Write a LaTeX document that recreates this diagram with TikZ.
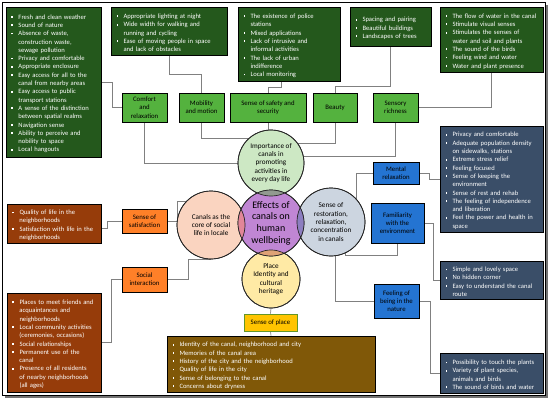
\documentclass[tikz,border=0pt]{standalone}
\usepackage{fontspec}
\setmainfont{Carlito}
\usetikzlibrary{backgrounds}

\definecolor{leafdark}{RGB}{36,88,28}
\definecolor{leaf}{RGB}{84,178,62}
\definecolor{slate}{RGB}{58,78,104}
\definecolor{azure}{RGB}{36,116,210}
\definecolor{rust}{RGB}{150,60,10}
\definecolor{tangerine}{RGB}{255,128,40}
\definecolor{ochre}{RGB}{128,88,8}
\definecolor{amber}{RGB}{255,196,0}
\definecolor{moss}{RGB}{100,150,40}
\definecolor{mint}{RGB}{205,232,196}
\definecolor{orchid}{RGB}{192,134,212}
\definecolor{peach}{RGB}{250,212,192}
\definecolor{mist}{RGB}{204,213,224}
\definecolor{cream}{RGB}{255,234,165}
\definecolor{lensmint}{RGB}{146,154,144}
\definecolor{lenspeach}{RGB}{226,134,152}
\definecolor{lensmist}{RGB}{140,126,192}
\definecolor{lenscream}{RGB}{222,162,118}

\newcommand{\bulletfont}{\fontsize{6.6}{8.3}\selectfont}
\newcommand{\labelfont}{\fontsize{6.8}{8.3}\selectfont}
\newcommand{\ringfont}{\fontsize{7.2}{8.4}\selectfont}
% one bullet item; continuation lines hang under the text
\newcommand{\itm}[1]{\par\hangindent=9.5pt\hangafter=1\noindent
  \makebox[9.5pt][l]{\hspace{2.5pt}\raisebox{1.3pt}{\rule{1.8pt}{1.8pt}}}#1\par}

\begin{document}
\begin{tikzpicture}[
  x=1pt, y=-1pt,
  facts/.style={
    rectangle, draw=black, line width=0.6pt, text=white,
    font=\bulletfont, align=left, inner xsep=3pt, inner ysep=2pt},
  facet/.style={
    rectangle, draw=black, line width=0.6pt,
    font=\labelfont, align=center, inner sep=1pt},
  ring/.style={
    circle, draw=black!85, line width=0.7pt, inner sep=0pt,
    font=\ringfont, align=center},
  link/.style={draw=black!50, line width=0.7pt},
]
\useasboundingbox (0,0) rectangle (550,400);

% ── Frame ───────────────────────────────────────────────────────────────
\draw[black!55, line width=2pt] (5,397) -- (547,397) -- (547,5);
\draw[line width=0.6pt] (2.5,2.5) rectangle (545,395.5);

% ── Circles ─────────────────────────────────────────────────────────────
\node[ring, fill=mint,   minimum size=66pt] (importance) at (271,163)
    {Importance of\\canals in\\promoting\\activities in\\every day life};
\node[ring, fill=peach,  minimum size=68pt] (social)     at (211,225)
    {Canals as the\\core of social\\life in locale};
\node[ring, fill=mist,   minimum size=68pt] (restore)    at (331,222)
    {Sense of\\restoration,\\relaxation,\\concentration\\in canals};
\node[ring, fill=cream,  minimum size=58pt] (identity)   at (271,279)
    {Place\\Identity and\\cultural\\heritage};
\node[ring, fill=orchid, minimum size=66pt,
      font=\fontsize{10}{11.7}\selectfont] (effects)     at (271,223)
    {Effects of\\canals on\\human\\wellbeing};

% overlaps with the centre circle
\begin{scope}
  \clip (effects.center) circle (33pt);
  \fill[lensmint]  (importance.center) circle (33pt);
  \fill[lenspeach] (social.center)     circle (34pt);
  \fill[lensmist]  (restore.center)    circle (34pt);
  \fill[lenscream] (identity.center)   circle (29pt);
\end{scope}
\draw[black!85, line width=0.7pt] (importance.center) circle (33pt)
  (social.center) circle (34pt) (restore.center) circle (34pt)
  (identity.center) circle (29pt) (effects.center) circle (33pt);

% ── Top row: lists ──────────────────────────────────────────────────────
\node[facts, fill=leafdark, text width=89pt, minimum height=150pt]
    (lComfort) at (53.5,82) {%
  \itm{Fresh and clean weather}
  \itm{Sound of nature}
  \itm{Absence of waste,\newline construction waste,\newline sewage pollution}
  \itm{Privacy and comfortable}
  \itm{Appropriate enclosure}
  \itm{Easy access for all to the\newline canal from nearby areas}
  \itm{Easy access to public\newline transport stations}
  \itm{A sense of the distinction\newline between spatial realms}
  \itm{Navigation sense}
  \itm{Ability to perceive and\newline nobility to space}
  \itm{Local hangouts}};
\node[facts, fill=leafdark, text width=110pt, minimum height=48pt]
    (lMobility) at (169,31) {%
  \itm{Appropriate lighting at night}
  \itm{Wide width for walking and\newline running and cycling}
  \itm{Ease of moving people in space\newline and lack of obstacles}};
\node[facts, fill=leafdark, text width=96pt, minimum height=74pt]
    (lSafety) at (289,44) {%
  \itm{The existence of police\newline stations}
  \itm{Mixed applications}
  \itm{Lack of intrusive and\newline informal activities}
  \itm{The lack of urban\newline indifference}
  \itm{Local monitoring}};
\node[facts, fill=leafdark, text width=75pt, minimum height=39pt]
    (lBeauty) at (390.5,26.5) {%
  \itm{Spacing and pairing}
  \itm{Beautiful buildings}
  \itm{Landscapes of trees}};
\node[facts, fill=leafdark, text width=97pt, minimum height=65pt]
    (lSensory) at (491.5,39.5) {%
  \itm{The flow of water in the canal}
  \itm{Stimulate visual senses}
  \itm{Stimulates the senses of\newline water and soil and plants}
  \itm{The sound of the birds}
  \itm{Feeling wind and water}
  \itm{Water and plant presence}};

% ── Top row: factors ────────────────────────────────────────────────────
\node[facet, fill=leaf, minimum width=45pt, minimum height=29pt]
    (comfort)  at (144.5,107.5) {Comfort\\and\\relaxation};
\node[facet, fill=leaf, minimum width=45pt, minimum height=29pt]
    (mobility) at (201.5,107.5) {Mobility\\and motion};
\node[facet, fill=leaf, minimum width=76pt, minimum height=29pt]
    (safety)   at (268,107.5)   {Sense of safety and\\security};
\node[facet, fill=leaf, minimum width=44pt, minimum height=29pt]
    (beauty)   at (335,107.5)   {Beauty};
\node[facet, fill=leaf, minimum width=45pt, minimum height=29pt]
    (sensory)  at (395.5,107.5) {Sensory\\richness};

% ── Right side ──────────────────────────────────────────────────────────
\node[facet, fill=azure, minimum width=46pt, minimum height=22pt]
    (mental)   at (396,173)   {Mental\\relaxation};
\node[facet, fill=azure, minimum width=53pt, minimum height=40pt]
    (familiar) at (397.5,223) {Familiarity\\with the\\environment};
\node[facet, fill=azure, minimum width=45pt, minimum height=34pt]
    (nature)   at (396.5,301) {Feeling of\\being in the\\nature};

\node[facts, fill=slate, text width=97pt, minimum height=106pt]
    (lMental) at (491.5,179) {%
  \itm{Privacy and comfortable}
  \itm{Adequate population density\newline on sidewalks, stations}
  \itm{Extreme stress relief}
  \itm{Feeling focused}
  \itm{Sense of keeping the\newline environment}
  \itm{Sense of rest and rehab}
  \itm{The feeling of independence\newline and liberation}
  \itm{Feel the power and health in\newline space}};
\node[facts, fill=slate, text width=97pt, minimum height=38pt]
    (lFamiliar) at (491.5,280) {%
  \itm{Simple and lovely space}
  \itm{No hidden corner}
  \itm{Easy to understand the canal\newline route}};
\node[facts, fill=slate, text width=97pt, minimum height=40pt]
    (lNature) at (491.5,373) {%
  \itm{Possibility to touch the plants}
  \itm{Variety of plant species,\newline animals and birds}
  \itm{The sound of birds and water}};

% ── Left side ───────────────────────────────────────────────────────────
\node[facet, fill=tangerine, minimum width=45pt, minimum height=24pt]
    (satisfy)  at (144.5,221)   {Sense of\\satisfaction};
\node[facet, fill=tangerine, minimum width=45pt, minimum height=25pt]
    (interact) at (144.5,279.5) {Social\\interaction};

\node[facts, fill=rust, text width=88pt, minimum height=39pt]
    (lSatisfy) at (54,223.5) {%
  \itm{Quality of life in the\newline neighborhoods}
  \itm{Satisfaction with life in the\newline neighborhoods}};
\node[facts, fill=rust, text width=88pt, minimum height=99pt]
    (lInteract) at (54,342.5) {%
  \itm{Places to meet friends and\newline acquaintances and\newline neighborhoods}
  \itm{Local community activities\newline (ceremonies, occasions)}
  \itm{Social relationships}
  \itm{Permanent use of the\newline canal}
  \itm{Presence of all residents\newline of nearby neighborhoods\newline (all ages)}};

% ── Bottom ──────────────────────────────────────────────────────────────
\node[facet, fill=amber, draw=moss, minimum width=53pt, minimum height=17pt]
    (placeSense) at (270.5,322.5) {Sense of place};
\node[facts, fill=ochre, text width=202pt, minimum height=56pt]
    (lPlace) at (271,364) {%
  \itm{Identity of the canal, neighborhood and city}
  \itm{Memories of the canal area}
  \itm{History of the city and the neighborhood}
  \itm{Quality of life in the city}
  \itm{Sense of belonging to the canal}
  \itm{Concerns about dryness}};

% ── Connectors (behind everything) ──────────────────────────────────────
\begin{scope}[on background layer]
  \fill[white] (0,0) rectangle (550,400);
  % lists to factors, top
  \draw[link] (lComfort.east) -- ++(11,0) |- (comfort.west);
  \draw[link] (lMobility.south) -- ++(0,19) -| (mobility.north);
  \draw[link] ([xshift=-8pt]lSafety.south) -- ++(0,6) -| (safety.north);
  \draw[link] (lBeauty.south) -- ++(0,40) -| (beauty.north);
  \draw[link] (lSensory.south) |- (sensory.east);
  % factors to importance circle
  \draw[link] (comfort.south) |- (importance.west);
  \draw[link] (mobility.south) |- (importance.133);
  \draw[link] (safety.south) -- (safety.south |- importance.north);
  \draw[link] (beauty.south) |- (importance.37);
  \draw[link] (sensory.south) |- (importance.12);
  % restoration circle, right
  \draw[link] (mental.west) -| (restore.42);
  \draw[link] (mental.east) -- ++(10,0) |- (lMental.west);
  \draw[link] (restore.-66) -- ++(0,1.5) -| (familiar.south);
  \draw[link] (familiar.east) -- ++(9,0) |- (lFamiliar.west);
  \draw[link] (restore.-83) |- (nature.west);
  \draw[link] (nature.east) -- ++(11,0) |- (lNature.west);
  % social circle, left
  \draw[link] ([yshift=-4.5pt]lSatisfy.east) -- ++(6,0) |- (satisfy.west);
  \draw[link] (satisfy.east) -- ++(10,0) |- (social.137);
  \draw[link] (social.south) -- ++(-23,0) |- (interact.east);
  \draw[link] (interact.west) -- ++(-10,0) |- (lInteract.east);
  % identity circle, bottom
  \draw[link] (identity.south) -- (placeSense.north);
  \draw[link] (placeSense.south) -- (lPlace.north);
\end{scope}

\end{tikzpicture}
\end{document}
